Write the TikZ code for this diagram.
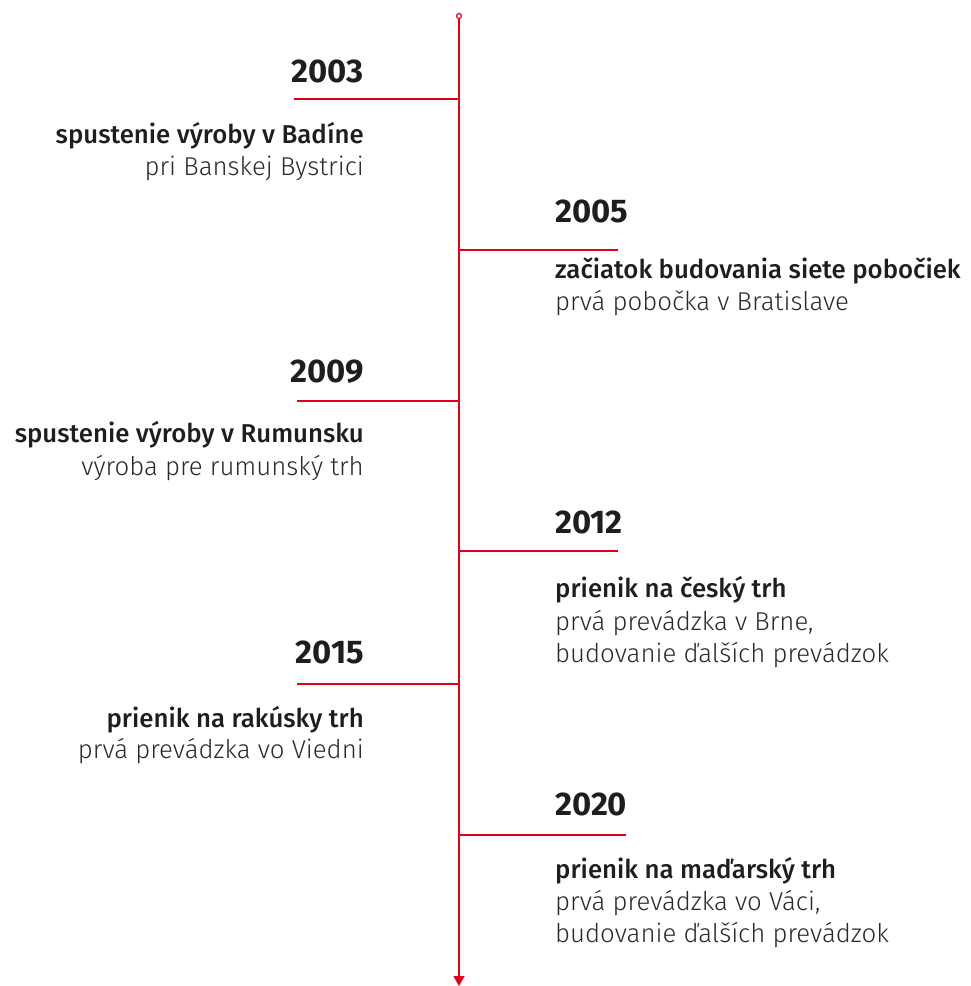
\documentclass[tikz,border=0pt]{standalone}
\usepackage{fontspec}
\usetikzlibrary{arrows.meta}
\newfontfamily\yrfont{Fira Sans Bold}
\newfontfamily\hdfont{Fira Sans Medium}
\newfontfamily\ltfont{Fira Sans Light}
\definecolor{tlred}{HTML}{E3001B}
\definecolor{tltext}{HTML}{1E1E1E}
\definecolor{tlsub}{HTML}{2A2A2A}
\tikzset{
  yr/.style={inner sep=0pt, text=tltext, font=\yrfont\fontsize{32.8}{33}\selectfont},
  hd/.style={inner sep=0pt, text=tltext, font=\hdfont\fontsize{25.8}{26}\selectfont},
  lt/.style={inner sep=0pt, text=tlsub, font=\ltfont\fontsize{25.8}{26}\selectfont},
  branch/.style={draw=tlred, line width=1.3pt},
}
\begin{document}
\begin{tikzpicture}[x=1pt,y=-1pt]
\useasboundingbox (0,0) rectangle (971,986);
% axis
\node[draw=tlred, line width=1.2pt, circle, minimum size=5pt, inner sep=0pt] (top) at (459,16) {};
\coordinate (bottom) at (459,986);
\draw[tlred, line width=1.3pt, -{Triangle[width=11pt,length=10pt]}] (top) -- (bottom);
% branch anchor points
\coordinate (a1) at (459,99);  \coordinate (b1) at (294,99);
\coordinate (a2) at (459,250); \coordinate (b2) at (618,250);
\coordinate (a3) at (459,401); \coordinate (b3) at (297,401);
\coordinate (a4) at (459,551); \coordinate (b4) at (618,551);
\coordinate (a5) at (459,684); \coordinate (b5) at (297,684);
\coordinate (a6) at (459,835); \coordinate (b6) at (626,835);
\foreach \i in {1,...,6} { \draw[branch] (a\i) -- (b\i); }
% 2003
\node[yr, anchor=base east] (y1) at (364,82) {2003};
\node[hd, anchor=base east] (h1) at (364,143) {spustenie výroby v Badíne};
\node[lt, anchor=base east] (l1) at (364,175) {pri Banskej Bystrici};
% 2005
\node[yr, anchor=base west] (y2) at (555,222) {2005};
\node[hd, anchor=base west] (h2) at (555,278) {začiatok budovania siete pobočiek};
\node[lt, anchor=base west] (l2) at (555,310) {prvá pobočka v Bratislave};
% 2009
\node[yr, anchor=base east] (y3) at (364,382) {2009};
\node[hd, anchor=base east] (h3) at (364,442) {spustenie výroby v Rumunsku};
\node[lt, anchor=base east] (l3) at (364,475) {výroba pre rumunský trh};
% 2012
\node[yr, anchor=base west] (y4) at (555,533) {2012};
\node[hd, anchor=base west] (h4) at (555,597) {prienik na český trh};
\node[lt, anchor=base west] (l4a) at (555,630) {prvá prevádzka v Brne,};
\node[lt, anchor=base west] (l4b) at (555,662) {budovanie ďalších prevádzok};
% 2015
\node[yr, anchor=base east] (y5) at (364,663) {2015};
\node[hd, anchor=base east] (h5) at (364,727) {prienik na rakúsky trh};
\node[lt, anchor=base east] (l5) at (364,758) {prvá prevádzka vo Viedni};
% 2020
\node[yr, anchor=base west] (y6) at (555,815) {2020};
\node[hd, anchor=base west] (h6) at (555,878) {prienik na maďarský trh};
\node[lt, anchor=base west] (l6a) at (555,910) {prvá prevádzka vo Váci,};
\node[lt, anchor=base west] (l6b) at (555,942) {budovanie ďalších prevádzok};
\end{tikzpicture}
\end{document}
